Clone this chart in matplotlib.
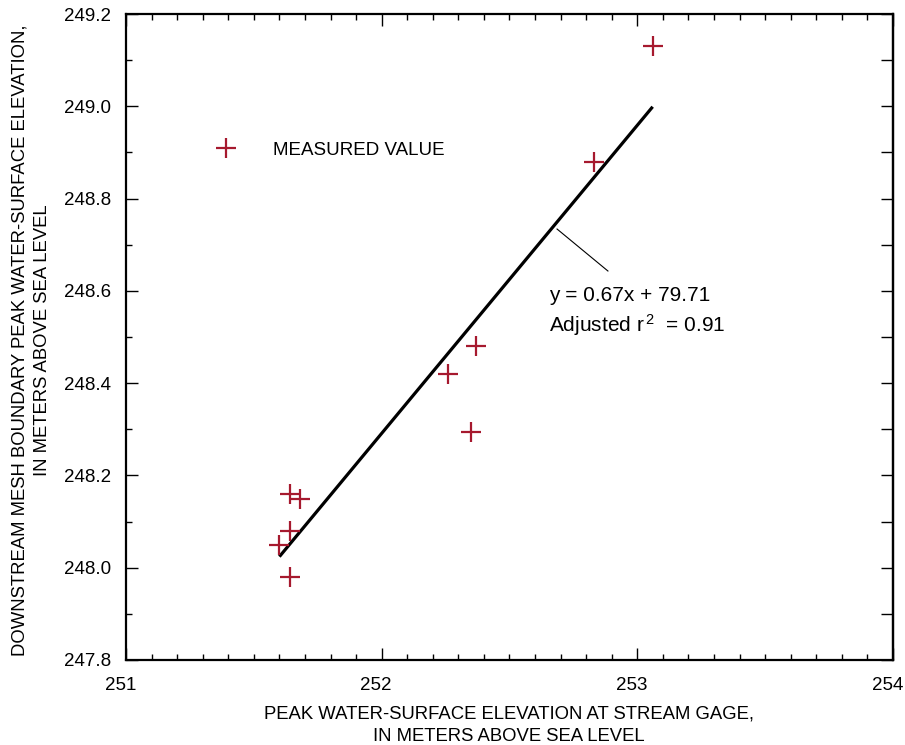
import matplotlib.pyplot as plt
from matplotlib.transforms import ScaledTranslation
import numpy as np

plt.rcParams['font.family'] = ['Liberation Sans', 'DejaVu Sans']
plt.rcParams['mathtext.fontset'] = 'custom'
plt.rcParams['mathtext.rm'] = 'Liberation Sans'
plt.rcParams['mathtext.default'] = 'regular'

# peak elevation at stream gage vs downstream boundary (m above sea level)
gage_peak = [253.06, 252.83, 252.37, 252.26, 252.35, 251.64, 251.68, 251.64, 251.60, 251.64]
boundary_peak = [249.13, 248.88, 248.48, 248.42, 248.295, 248.16, 248.15, 248.08, 248.05, 247.98]

# regression line end points
fit_x = [251.60, 253.06]
fit_y = [248.024, 248.999]

# leader line from regression to its label
leader_x = [252.686, 252.885]
leader_y = [248.734, 248.643]

eq_text = 'y = 0.67x + 79.71'
r2_text = r'Adjusted r$^{\,2}$  = 0.91'

red = '#A6192E'

fig = plt.figure(figsize=(9.05, 7.45), dpi=100)
ax = fig.add_axes([126 / 905, 1 - 660 / 745, 767 / 905, 646 / 745])

ax.plot(fit_x, fit_y, color='black', lw=2.3, solid_capstyle='butt', zorder=2)
ax.plot(leader_x, leader_y, color='black', lw=0.8, zorder=2)
ax.plot(gage_peak, boundary_peak, linestyle='none', marker='+', ms=14,
        mew=1.6, color=red, label='MEASURED VALUE', zorder=3)

ax.text(252.654, 248.591, eq_text, fontsize=15, ha='left', va='center')
ax.text(252.654, 248.526, r2_text, fontsize=15, ha='left', va='center')

ax.legend(loc='center left', bbox_to_anchor=(0.1056, 0.7895), frameon=False,
          numpoints=1, handlelength=2.0, handletextpad=1.52, borderpad=0,
          borderaxespad=0, fontsize=13.5)

ax.set_xlim(251, 254)
ax.set_ylim(247.8, 249.2)
ax.set_xticks([251, 252, 253, 254])
ax.set_xticks(np.arange(251, 254.01, 0.1), minor=True)
ax.set_yticks(np.arange(247.8, 249.21, 0.2))
ax.set_yticks(np.arange(247.8, 249.21, 0.1), minor=True)
ax.set_yticklabels([f'{v:.1f}' for v in np.arange(247.8, 249.21, 0.2)])

ax.tick_params(which='both', direction='in', top=True, right=False, width=1.0,
               labelsize=13.5)
ax.tick_params(axis='x', pad=12)
ax.tick_params(axis='y', pad=11)
ax.tick_params(which='major', length=8.6)
ax.tick_params(which='minor', length=4.5)

# x labels sit a little left of their ticks, keeps 254 inside the figure
shift = ScaledTranslation(-4 / 72, 0, fig.dpi_scale_trans)
for lbl in ax.get_xticklabels():
    lbl.set_transform(lbl.get_transform() + shift)

# right side has full length ticks every 0.1
sec = ax.secondary_yaxis('right')
sec.set_yticks(np.arange(247.8, 249.21, 0.1))
sec.tick_params(direction='in', length=8.6, width=1.0, labelright=False)
sec.spines['right'].set_linewidth(1.6)

for s in ax.spines.values():
    s.set_linewidth(1.6)

fig.text(509 / 905, 1 - 725 / 745,
         'PEAK WATER-SURFACE ELEVATION AT STREAM GAGE,\nIN METERS ABOVE SEA LEVEL',
         ha='center', va='center', ma='center', fontsize=13.3, linespacing=1.4)
fig.text(31 / 905, 1 - 340 / 745,
         'DOWNSTREAM MESH BOUNDARY PEAK WATER-SURFACE ELEVATION,\nIN METERS ABOVE SEA LEVEL',
         ha='center', va='center', ma='center', rotation=90, fontsize=13.3,
         linespacing=1.4)

fig.savefig('out.png', dpi=100)
